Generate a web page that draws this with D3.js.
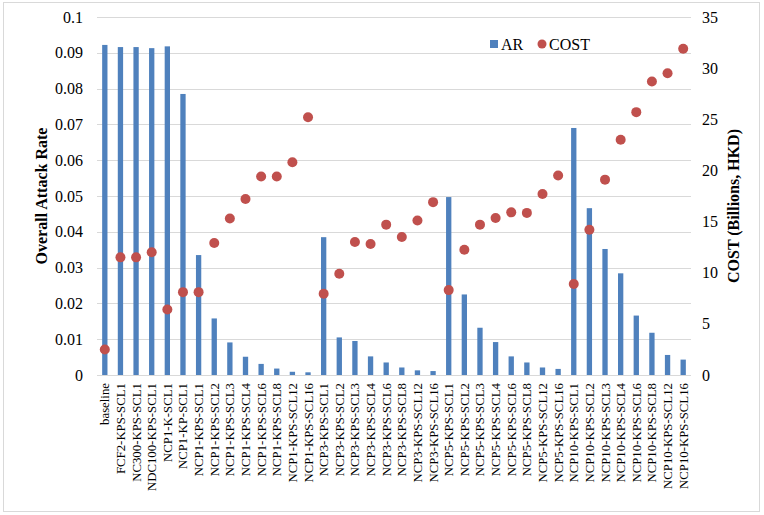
<!DOCTYPE html>
<html>
<head>
<meta charset="utf-8">
<script src="https://cdn.jsdelivr.net/npm/d3@7"></script>
<style>
  body { margin: 0; background: #fff; }
  svg text { font-family: "Liberation Serif", Tinos, "Times New Roman", Times, "DejaVu Serif", serif !important; fill: #000; }
</style>
</head>
<body>
<script>
// scenario names
var scenarios = ["baseline", "FCF2-KPS-SCL1", "NC300-KPS-SCL1", "NDC100-KPS-SCL1", "NCP1-K-SCL1", "NCP1-KP-SCL1",
    "NCP1-KPS-SCL1", "NCP1-KPS-SCL2", "NCP1-KPS-SCL3", "NCP1-KPS-SCL4", "NCP1-KPS-SCL6", "NCP1-KPS-SCL8", "NCP1-KPS-SCL12", "NCP1-KPS-SCL16",
    "NCP3-KPS-SCL1", "NCP3-KPS-SCL2", "NCP3-KPS-SCL3", "NCP3-KPS-SCL4", "NCP3-KPS-SCL6", "NCP3-KPS-SCL8", "NCP3-KPS-SCL12", "NCP3-KPS-SCL16",
    "NCP5-KPS-SCL1", "NCP5-KPS-SCL2", "NCP5-KPS-SCL3", "NCP5-KPS-SCL4", "NCP5-KPS-SCL6", "NCP5-KPS-SCL8", "NCP5-KPS-SCL12", "NCP5-KPS-SCL16",
    "NCP10-KPS-SCL1", "NCP10-KPS-SCL2", "NCP10-KPS-SCL3", "NCP10-KPS-SCL4", "NCP10-KPS-SCL6", "NCP10-KPS-SCL8", "NCP10-KPS-SCL12", "NCP10-KPS-SCL16"];

// overall attack rate (bars)
var attackRate = [0.0922, 0.0916, 0.0916, 0.0913, 0.0918, 0.0785,
    0.0335, 0.0158, 0.0091, 0.0051, 0.0031, 0.0018, 0.0009, 0.00075,
    0.0385, 0.0105, 0.0095, 0.0052, 0.0035, 0.0021, 0.0013, 0.0011,
    0.0497, 0.0225, 0.0132, 0.0092, 0.0052, 0.0035, 0.0021, 0.0017,
    0.0690, 0.0466, 0.0352, 0.0284, 0.0166, 0.0118, 0.0056, 0.0043];

// cost in billions HKD (dots)
var cost = [2.5, 11.5, 11.5, 12.0, 6.4, 8.1,
    8.1, 12.9, 15.3, 17.2, 19.4, 19.4, 20.8, 25.2,
    7.95, 9.9, 13.0, 12.8, 14.7, 13.5, 15.1, 16.9,
    8.3, 12.25, 14.7, 15.35, 15.9, 15.85, 17.7, 19.5,
    8.9, 14.2, 19.1, 23.0, 25.7, 28.7, 29.5, 31.9];

var leftTicks = [0, 0.01, 0.02, 0.03, 0.04, 0.05, 0.06, 0.07, 0.08, 0.09, 0.1];
var rightTicks = [0, 5, 10, 15, 20, 25, 30, 35];

var svgWidth = 764, svgHeight = 515;
var margin = { top: 17, right: 73, bottom: 140, left: 97 };
var chartwidth = svgWidth - margin.left - margin.right;
var chartheight = svgHeight - margin.top - margin.bottom;

var svg = d3.select("body").append("svg")
    .attr("width", svgWidth)
    .attr("height", svgHeight);

// outer frame
svg.append("rect")
    .attr("x", 3.5).attr("y", 2.5)
    .attr("width", 756).attr("height", 509)
    .attr("fill", "none")
    .attr("stroke", "#d9d9d9");

var chartGroup = svg.append("g")
    .attr("transform", `translate(${margin.left}, ${margin.top})`);

var xScale = d3.scaleBand()
    .domain(scenarios)
    .range([0, chartwidth])
    .paddingInner(0.66)
    .paddingOuter(0.33);

var yLeft = d3.scaleLinear().domain([0, 0.1]).range([chartheight, 0]);
var yRight = d3.scaleLinear().domain([0, 35]).range([chartheight, 0]);

// gridlines
chartGroup.append("g")
    .selectAll("line")
    .data(leftTicks)
    .enter()
    .append("line")
    .attr("x1", 0).attr("x2", chartwidth)
    .attr("y1", d => Math.round(yLeft(d)) + 0.5)
    .attr("y2", d => Math.round(yLeft(d)) + 0.5)
    .attr("stroke", "#d9d9d9")
    .attr("stroke-width", 1);

// left axis
var leftAxis = d3.axisLeft(yLeft).tickValues(leftTicks).tickSize(0).tickPadding(14)
    .tickFormat(d => d === 0 ? "0" : d3.format("")(+d.toFixed(2)));
chartGroup.append("g").call(leftAxis)
    .attr("font-family", null)
    .call(g => g.select(".domain").remove())
    .selectAll("text")
    .attr("font-size", "16px");

// right axis
var rightAxis = d3.axisRight(yRight).tickValues(rightTicks).tickSize(0).tickPadding(11);
chartGroup.append("g")
    .attr("transform", `translate(${chartwidth}, 0)`)
    .call(rightAxis)
    .attr("font-family", null)
    .call(g => g.select(".domain").remove())
    .selectAll("text")
    .attr("font-size", "16px");

// bottom axis labels
var bottomAxis = d3.axisBottom(xScale).tickSize(0).tickPadding(0);
chartGroup.append("g")
    .attr("transform", `translate(0, ${chartheight})`)
    .call(bottomAxis)
    .attr("font-family", null)
    .call(g => g.select(".domain").remove())
    .selectAll("text")
    .attr("font-size", "12.8px")
    .attr("text-anchor", "end")
    .attr("dy", "0.35em")
    .attr("transform", "translate(0, 8) rotate(-90)");

// bars
chartGroup.selectAll(".bar")
    .data(attackRate)
    .enter()
    .append("rect")
    .attr("class", "bar")
    .attr("x", (d, i) => xScale(scenarios[i]))
    .attr("width", xScale.bandwidth())
    .attr("y", d => yLeft(d))
    .attr("height", d => chartheight - yLeft(d))
    .attr("fill", "#4f81bd");

// dots
chartGroup.selectAll(".dot")
    .data(cost)
    .enter()
    .append("circle")
    .attr("class", "dot")
    .attr("cx", (d, i) => xScale(scenarios[i]) + xScale.bandwidth() / 2)
    .attr("cy", d => yRight(d))
    .attr("r", 5)
    .attr("fill", "#c0504d");

// axis titles
svg.append("text")
    .attr("transform", "translate(47, 196) rotate(-90)")
    .attr("text-anchor", "middle")
    .attr("font-size", "16px")
    .attr("font-weight", "bold")
    .text("Overall Attack Rate");

svg.append("text")
    .attr("transform", "translate(739, 206) rotate(-90)")
    .attr("text-anchor", "middle")
    .attr("font-size", "16px")
    .attr("font-weight", "bold")
    .text("COST (Billions, HKD)");

// legend
var legend = svg.append("g").attr("transform", "translate(490, 44)");
legend.append("rect")
    .attr("x", 0).attr("y", -4)
    .attr("width", 8).attr("height", 8)
    .attr("fill", "#4f81bd");
legend.append("text")
    .attr("x", 11).attr("y", 0).attr("dy", "0.35em")
    .attr("font-size", "16px")
    .text("AR");
legend.append("circle")
    .attr("cx", 52).attr("cy", 0)
    .attr("r", 4.5)
    .attr("fill", "#c0504d");
legend.append("text")
    .attr("x", 59).attr("y", 0).attr("dy", "0.35em")
    .attr("font-size", "16px")
    .text("COST");
</script>
</body>
</html>
